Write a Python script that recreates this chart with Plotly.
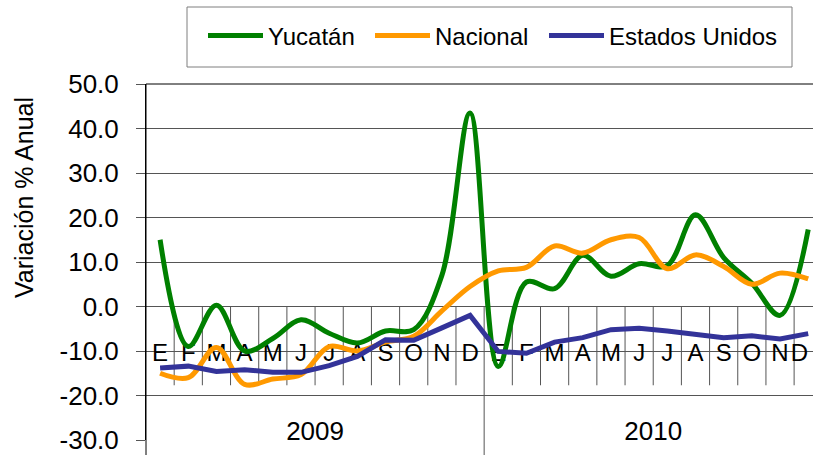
import plotly.graph_objects as go

months = ["E", "F", "M", "A", "M", "J", "J", "A", "S", "O", "N", "D",
          "E", "F", "M", "A", "M", "J", "J", "A", "S", "O", "N", "D"]
years = ["2009", "2010"]
y_ticks = [-30, -20, -10, 0, 10, 20, 30, 40, 50]
y_tick_text = ["%.1f" % v for v in y_ticks]

yucatan = [15.0, -9.0, 0.3, -10.0, -7.2, -3.0, -6.0, -8.2, -5.5, -5.2, 7.0, 43.5,
           -13.5, 5.5, 4.0, 11.5, 6.8, 9.6, 9.2, 20.6, 11.0, 5.2, -2.0, 17.3]
nacional = [-15.0, -16.0, -9.2, -17.5, -16.3, -15.3, -9.0, -10.0, -8.0, -6.7, -1.0, 4.5,
            8.0, 8.8, 13.6, 12.0, 15.0, 15.5, 8.5, 11.6, 9.0, 5.0, 7.5, 6.2]
eeuu = [-13.8, -13.4, -14.6, -14.2, -14.8, -14.8, -13.3, -11.2, -7.5, -7.6, -4.8, -2.0,
        -10.1, -10.5, -8.0, -7.0, -5.2, -4.9, -5.5, -6.3, -7.0, -6.6, -7.3, -6.1]

FONT = "Liberation Sans, Arial, sans-serif"
x = list(range(len(months)))
PH = 356.0
PW = 667.0

fig = go.Figure()

month_pos = ["middle center"] * (len(months) - 1) + ["middle left"]
fig.add_trace(go.Scatter(x=x, y=[-10.8] * len(x), mode="text", text=months,
                         textposition=month_pos,
                         textfont=dict(family=FONT, size=24, color="black"),
                         showlegend=False, hoverinfo="skip"))
fig.add_trace(go.Scatter(x=[5.5, 17.5], y=[-28.6, -28.6], mode="text", text=years,
                         textfont=dict(family=FONT, size=26, color="black"),
                         showlegend=False, hoverinfo="skip", cliponaxis=False))

fig.add_trace(go.Scatter(x=x, y=yucatan, name="Yucatán", mode="lines", legend="legend",
                         line=dict(color="#008000", width=5, shape="spline", smoothing=1.0)))
fig.add_trace(go.Scatter(x=x, y=nacional, name="Nacional", mode="lines", legend="legend2",
                         line=dict(color="#FF9900", width=5, shape="spline", smoothing=1.0)))
fig.add_trace(go.Scatter(x=x, y=eeuu, name="Estados Unidos", mode="lines", legend="legend3",
                         line=dict(color="#333399", width=5)))

shapes = []
for k in range(1, len(months)):
    if k == 12:
        continue
    shapes.append(dict(type="line", xref="x", yref="y", x0=k - 0.5, x1=k - 0.5,
                       y0=0, y1=-17.7, line=dict(color="#555555", width=1), layer="below"))
shapes.append(dict(type="line", xref="x", yref="paper", x0=11.5, x1=11.5,
                   y0=(440 - 306.6) / PH, y1=-15 / PH,
                   line=dict(color="#555555", width=1), layer="below"))
shapes.append(dict(type="line", xref="paper", yref="paper", x0=0, x1=0,
                   y0=-15 / PH, y1=1, line=dict(color="black", width=1)))
shapes.append(dict(type="line", xref="paper", yref="paper", x0=0, x1=1,
                   y0=1, y1=1, line=dict(color="black", width=1)))
shapes.append(dict(type="rect", xref="paper", yref="paper",
                   x0=(187 - 146) / PW, x1=(792 - 146) / PW,
                   y0=(440 - 67) / PH, y1=(440 - 7) / PH,
                   line=dict(color="#7f7f7f", width=1), fillcolor="rgba(0,0,0,0)"))


def legend_at(px):
    return dict(orientation="h", x=(px - 146) / PW, y=(440 - 36) / PH,
                xanchor="left", yanchor="middle",
                font=dict(family=FONT, size=24, color="black"),
                bgcolor="rgba(0,0,0,0)", borderwidth=0, itemwidth=55)


fig.update_layout(
    width=813, height=455,
    margin=dict(l=146, r=0, t=84, b=15, autoexpand=False),
    paper_bgcolor="white", plot_bgcolor="white",
    font=dict(family=FONT, color="black"),
    shapes=shapes,
    showlegend=True,
    legend=legend_at(203),
    legend2=legend_at(370),
    legend3=legend_at(544),
    xaxis=dict(range=[-0.5, 23.17], showgrid=False, zeroline=False,
               showticklabels=False, ticks="", showline=False, fixedrange=True),
    yaxis=dict(range=[-30, 50], tickmode="array", tickvals=y_ticks, ticktext=y_tick_text,
               showgrid=True, gridcolor="#555555", gridwidth=1,
               zeroline=False, showline=True, linecolor="black", linewidth=1,
               ticks="outside", ticklen=9, tickcolor="#555555",
               tickfont=dict(family=FONT, size=26, color="black"),
               ticklabelstandoff=12, ticklabeloverflow="allow"),
    annotations=[dict(text="Variación % Anual", textangle=-90, showarrow=False,
                      xref="paper", yref="paper",
                      x=(24 - 146) / PW, y=(440 - 198) / PH,
                      xanchor="center", yanchor="middle",
                      font=dict(family=FONT, size=25, color="black"))],
)

fig.write_html("out.html", post_script="document.body.style.margin='0';",
               config={"displayModeBar": False})
